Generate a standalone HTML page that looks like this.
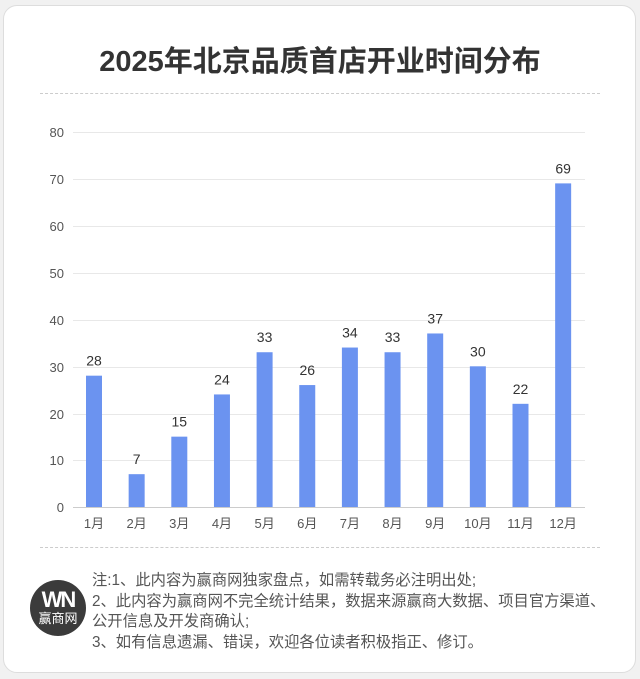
<!DOCTYPE html>
<html><head><meta charset="utf-8"><style>
html,body{margin:0;padding:0;background:#f1f1f1;}
body{width:640px;height:679px;position:relative;overflow:hidden;font-family:"Liberation Sans","Noto Sans CJK SC",sans-serif;}
.card{position:absolute;left:3px;top:5px;width:631px;height:666px;background:#fff;border:1px solid #ddd;border-radius:14px;}
.title{position:absolute;left:0;width:640px;top:38px;text-align:center;font-size:29px;font-weight:bold;color:#333;}
.dash{position:absolute;left:40px;width:560px;border-top:1px dashed #ccc;}
.note{position:absolute;left:92px;top:571px;font-size:15.3px;line-height:20.5px;color:#555;white-space:nowrap;}
.logo{position:absolute;left:30px;top:580px;width:56px;height:56px;border-radius:50%;background:#3b3b3b;color:#fff;text-align:center;}
</style></head><body>
<div class="card"></div>
<div class="title">2025年北京品质首店开业时间分布</div>
<div class="dash" style="top:93px"></div>
<div class="dash" style="top:547px"></div>
<svg width="640" height="679" style="position:absolute;left:0;top:0" font-family="Liberation Sans, Noto Sans CJK SC, sans-serif">
<g stroke="#e8e8e8" stroke-width="1">
<line x1="73" x2="585" y1="132.5" y2="132.5"/><line x1="73" x2="585" y1="179.5" y2="179.5"/>
<line x1="73" x2="585" y1="226.5" y2="226.5"/><line x1="73" x2="585" y1="273.5" y2="273.5"/>
<line x1="73" x2="585" y1="320.5" y2="320.5"/><line x1="73" x2="585" y1="367.5" y2="367.5"/>
<line x1="73" x2="585" y1="414.5" y2="414.5"/><line x1="73" x2="585" y1="460.5" y2="460.5"/>
</g>
<line x1="73" x2="585" y1="507.5" y2="507.5" stroke="#ccc"/>
<g font-size="13" fill="#555" text-anchor="end">
<text x="64" y="137">80</text><text x="64" y="184">70</text><text x="64" y="231">60</text><text x="64" y="278">50</text>
<text x="64" y="325">40</text><text x="64" y="372">30</text><text x="64" y="419">20</text><text x="64" y="465">10</text><text x="64" y="512">0</text>
</g>
<g fill="#6b93f0" id="bars"></g>
<g font-size="14" fill="#333" text-anchor="middle" id="lbl"></g>
<g font-size="13" fill="#555" text-anchor="middle" id="xl"></g>
</svg>
<div class="logo"><div style="font-size:22px;font-weight:bold;line-height:22px;margin-top:9px;letter-spacing:-2px">WN</div><div style="font-size:13px;line-height:16px">赢商网</div></div>
<div class="note">注:1、此内容为赢商网独家盘点，如需转载务必注明出处;<br>2、此内容为赢商网不完全统计结果，数据来源赢商大数据、项目官方渠道、<br>公开信息及开发商确认;<br>3、如有信息遗漏、错误，欢迎各位读者积极指正、修订。</div>
<script>
var v=[28,7,15,24,33,26,34,33,37,30,22,69],ns="http://www.w3.org/2000/svg";
var b=document.getElementById('bars'),l=document.getElementById('lbl'),x=document.getElementById('xl');
v.forEach(function(d,i){var cx=94+i*42.65,h=d*4.69;
var r=document.createElementNS(ns,'rect');r.setAttribute('x',cx-8);r.setAttribute('width',16);r.setAttribute('y',507-h);r.setAttribute('height',h);b.appendChild(r);
var t=document.createElementNS(ns,'text');t.setAttribute('x',cx);t.setAttribute('y',507-h-10);t.textContent=d;l.appendChild(t);
var u=document.createElementNS(ns,'text');u.setAttribute('x',cx);u.setAttribute('y',528);u.textContent=(i+1)+'月';x.appendChild(u);});
</script>
</body></html>
